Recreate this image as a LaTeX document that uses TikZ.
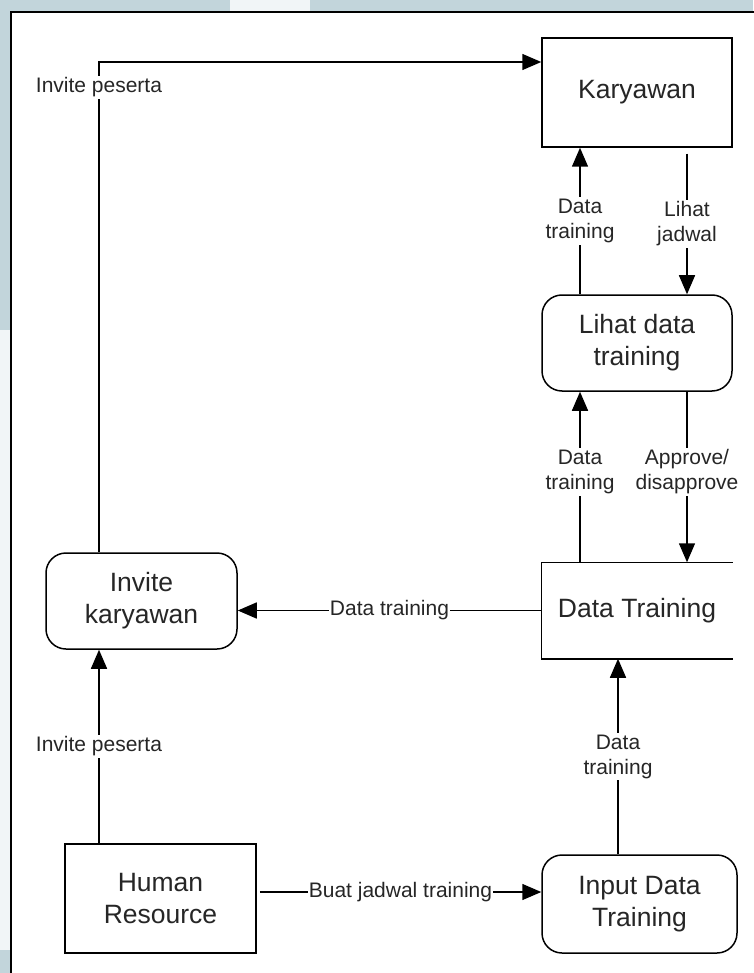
\documentclass[tikz,border=0pt]{standalone}
\usepackage{fontspec}
\setmainfont{Liberation Sans}
\usetikzlibrary{arrows.meta,positioning,calc}
\definecolor{slidebg}{HTML}{C2D5DB}
\definecolor{slidelight}{HTML}{F1F5F7}
\begin{document}
\begin{tikzpicture}[x=1pt,y=-1pt,line width=1.5pt,
  entity/.style={draw,rectangle,inner sep=0pt,align=center,text=black!85,
    font=\fontsize{26.5}{32}\selectfont},
  process/.style={entity,rounded corners=20pt},
  flow/.style={-{Triangle[length=19pt,width=16pt]}},
  lbl/.style={fill=white,inner sep=2pt,align=center,text=black!85,
    font=\fontsize{21}{25}\selectfont}]
% background and frame
\useasboundingbox (0,0) rectangle (753,973);
\fill[slidebg] (0,0) rectangle (753,973);
\fill[slidelight] (0,330) rectangle (11,950);
\fill[slidelight] (230,0) rectangle (310,12);
\draw[fill=white] (11,12) rectangle (770,990);

% nodes
\node[entity,minimum width=190pt,minimum height=109pt] (kary) at (637,92.5) {Karyawan};
\node[process,minimum width=190pt,minimum height=96pt] (lihat) at (637,343) {Lihat data\\training};
\node[inner sep=0pt,minimum width=190pt,minimum height=95pt,text=black!85,
  font=\fontsize{26.5}{32}\selectfont] (store) at (637,610.5) {Data Training};
\draw (store.north east) -- (store.north west) -- (store.south west) -- (store.south east);
\node[process,minimum width=191pt,minimum height=96pt] (inv) at (141.5,601) {Invite\\karyawan};
\node[entity,minimum width=191pt,minimum height=109pt] (hr) at (160.5,898.5) {Human\\Resource};
\node[process,minimum width=195pt,minimum height=98pt] (inp) at (639.5,904) {Input Data\\Training};

% connector ends
\coordinate (hrtop) at ([xshift=-61.5pt]hr.north);
\coordinate (hrright) at ([xshift=3pt,yshift=6.5pt]hr.east);
\coordinate (inptop) at ([xshift=-21.5pt]inp.north);

% flows
\draw[flow] ([xshift=-42.5pt]inv.north) |- node[lbl,pos=0.474] {Invite peserta} ([yshift=30.5pt]kary.west);
\draw[flow] ([xshift=-57pt]lihat.north) -- node[lbl] {Data\\training} ([xshift=-57pt]kary.south);
\draw[flow] ([xshift=50pt,yshift=-6pt]kary.south) -- node[lbl] {Lihat\\jadwal} ([xshift=50pt]lihat.north);
\draw[flow] ([xshift=-57pt]store.north) -- node[lbl,yshift=5pt] {Data\\training} ([xshift=-57pt]lihat.south);
\draw[flow] ([xshift=50pt]lihat.south) -- node[lbl,yshift=5pt] {Approve/\\disapprove} ([xshift=50pt]store.north);
\draw[flow] (store.west) -- node[lbl,inner xsep=1pt] {Data training} (inv.east |- store.west);
\draw[flow] (hrtop) -- node[lbl] {Invite peserta} (inv.south -| hrtop);
\draw[flow] (hrright) -- node[lbl,inner xsep=1pt] {Buat jadwal training} (inp.west |- hrright);
\draw[flow] (inptop) -- node[lbl] {Data\\training} (store.south -| inptop);
\end{tikzpicture}
\end{document}
